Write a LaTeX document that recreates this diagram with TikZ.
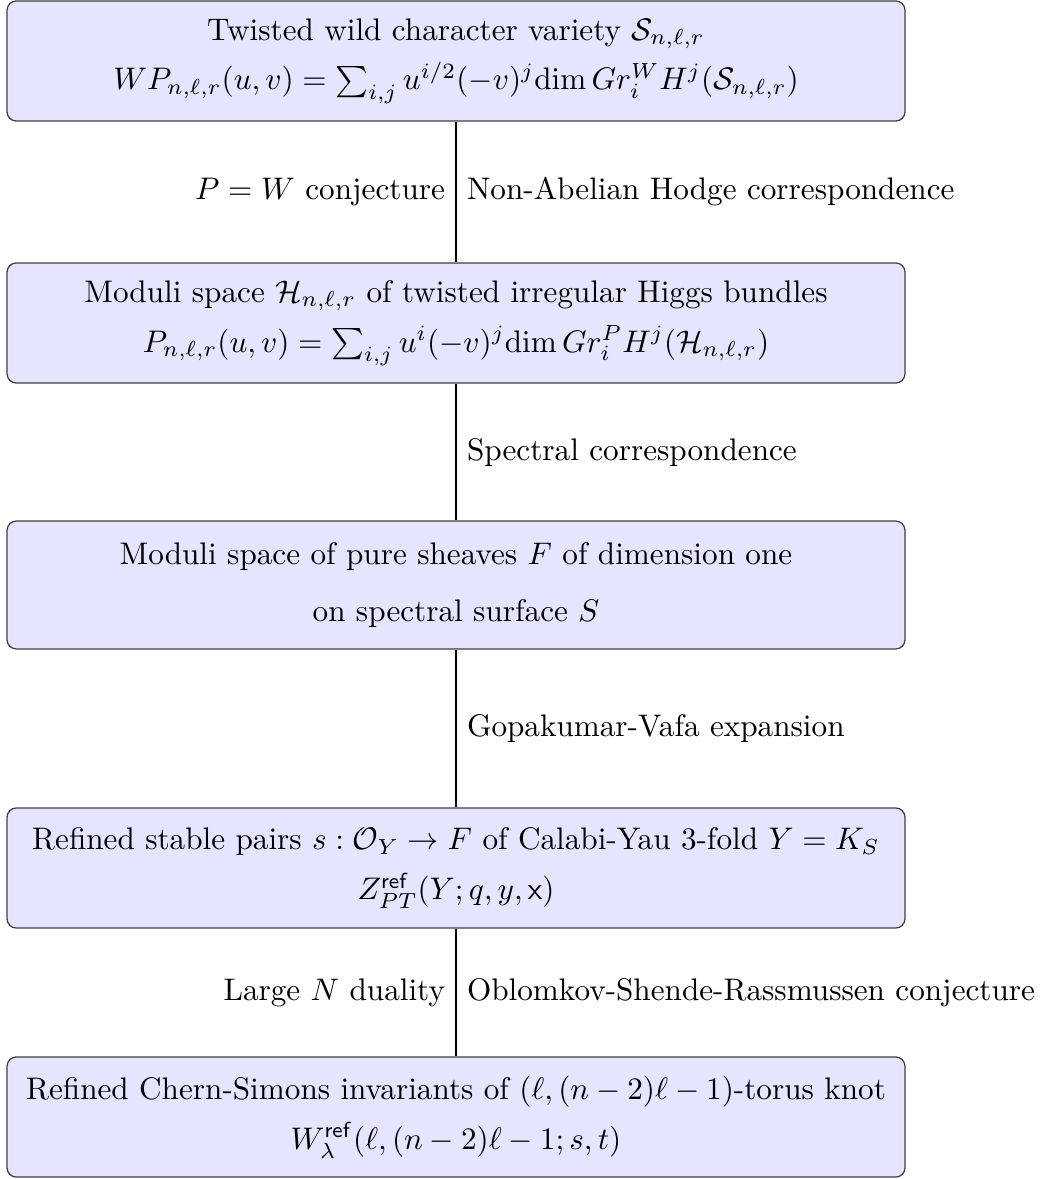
\documentclass[tikz,border=0pt]{standalone}
\usepackage{amsmath,amssymb}
\begin{document}
\begin{tikzpicture}[x=0.3205pt,y=-0.3205pt,
  box/.style={draw=black!75, fill=blue!10, rounded corners=3pt, align=center,
    minimum width=287.8pt, minimum height=38.5pt, inner sep=0pt},
  conn/.style={draw=black, line width=0.4pt}]
\useasboundingbox (0,0) rectangle (1041,1179);
\node[box] (b1) at (456,61) {Twisted wild character variety $\mathcal{S}_{n,\ell,r}$\\[4pt]
  $WP_{n,\ell,r}(u,v)=\sum_{i,j}u^{i/2}(-v)^j\mathrm{dim}\,Gr_i^W H^j(\mathcal{S}_{n,\ell,r})$};
\node[box] (b2) at (456,323) {Moduli space $\mathcal{H}_{n,\ell,r}$ of twisted irregular Higgs bundles\\[4pt]
  $P_{n,\ell,r}(u,v)=\sum_{i,j}u^{i}(-v)^j\mathrm{dim}\,Gr_i^P H^j(\mathcal{H}_{n,\ell,r})$};
\node[box, minimum height=41pt] (b3) at (456,585) {Moduli space of pure sheaves $F$ of dimension one\\[6pt]
  on spectral surface $S$};
\node[box] (b4) at (456,868) {Refined stable pairs $s:\mathcal{O}_Y\to F$ of Calabi-Yau 3-fold $Y=K_S$\\[4pt]
  $Z^{\mathsf{ref}}_{PT}(Y;q,y,\mathsf{x})$};
\node[box] (b5) at (456,1117) {Refined Chern-Simons invariants of $(\ell,(n-2)\ell-1)$-torus knot\\[4pt]
  $W^{\mathsf{ref}}_{\lambda}(\ell,(n-2)\ell-1;s,t)$};
\draw[conn] (b1.south) -- (b2.north)
  node[midway,left] (l1) {$P=W$ conjecture}
  node[midway,right] (r1) {Non-Abelian Hodge correspondence};
\draw[conn] (b2.south) -- (b3.north)
  node[midway,right] (r2) {Spectral correspondence};
\draw[conn] (b3.south) -- (b4.north)
  node[midway,right] (r3) {Gopakumar-Vafa expansion};
\draw[conn] (b4.south) -- (b5.north)
  node[midway,left] (l4) {Large $N$ duality}
  node[midway,right] (r4) {Oblomkov-Shende-Rassmussen conjecture};
\end{tikzpicture}
\end{document}
